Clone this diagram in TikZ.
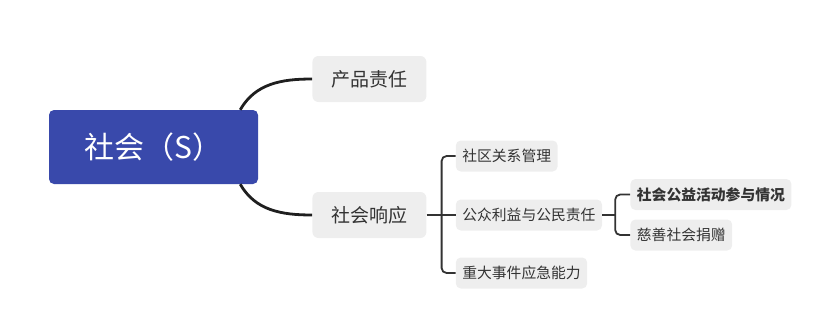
\documentclass[tikz,border=0pt]{standalone}
\usepackage{fontspec}
\setmainfont{Noto Sans CJK SC}
\usepackage{tikz}
\usetikzlibrary{positioning}

\definecolor{rootblue}{HTML}{3949AB}
\definecolor{boxgray}{HTML}{EEEEEE}
\definecolor{inkdark}{HTML}{333333}

\begin{document}
\begin{tikzpicture}[x=1pt, y=-1pt,
    rootbox/.style={rectangle, fill=rootblue, text=white, rounded corners=5pt, minimum width=209pt, minimum height=74pt, font=\fontsize{30}{34}\selectfont},
    mainbox/.style={rectangle, fill=boxgray, text=inkdark, rounded corners=6pt, minimum width=114pt, minimum height=46pt, font=\fontsize{19}{22}\selectfont},
    subbox/.style={rectangle, fill=boxgray, text=inkdark, rounded corners=5pt, inner xsep=6.5pt, minimum height=31pt, font=\fontsize{14.8}{17}\selectfont},
    mainlink/.style={line width=2.8pt, draw=black!88},
    treelink/.style={line width=1.8pt, draw=inkdark, rounded corners=5pt}]

    \useasboundingbox (0,0) rectangle (831,333);

    \node[rootbox] (root) at (153.5,147) {社会（S）};
    \node[mainbox, right=54pt of root, yshift=68pt] (prod) {产品责任};
    \node[mainbox, right=54pt of root, yshift=-68pt] (resp) {社会响应};

    \node[subbox, right=29pt of resp, yshift=59pt] (comm) {社区关系管理};
    \node[subbox, right=29pt of resp] (publ) {公众利益与公民责任};
    \node[subbox, right=29pt of resp, yshift=-58pt] (emer) {重大事件应急能力};

    \node[subbox, right=28pt of publ, yshift=20.5pt, font=\fontsize{14.8}{17}\selectfont\bfseries] (welf) {社会公益活动参与情况};
    \node[subbox, right=28pt of publ, yshift=-20pt] (dona) {慈善社会捐赠};

    \coordinate (rtop) at ([xshift=-18pt]root.north east);
    \coordinate (rbot) at ([xshift=-18pt]root.south east);
    \coordinate (fork1) at ([xshift=15pt]resp.east);
    \coordinate (fork2) at ([xshift=13pt]publ.east);

    \draw[mainlink] (rtop) to[out=60, in=180] (prod.west);
    \draw[mainlink] (rbot) to[out=-60, in=180] (resp.west);

    \draw[treelink] (resp.east) -- (publ.west);
    \draw[treelink] (comm.west) -| (fork1) |- (emer.west);
    \draw[treelink] (publ.east) -- (fork2);
    \draw[treelink] (welf.west) -| (fork2) |- (dona.west);
\end{tikzpicture}
\end{document}
